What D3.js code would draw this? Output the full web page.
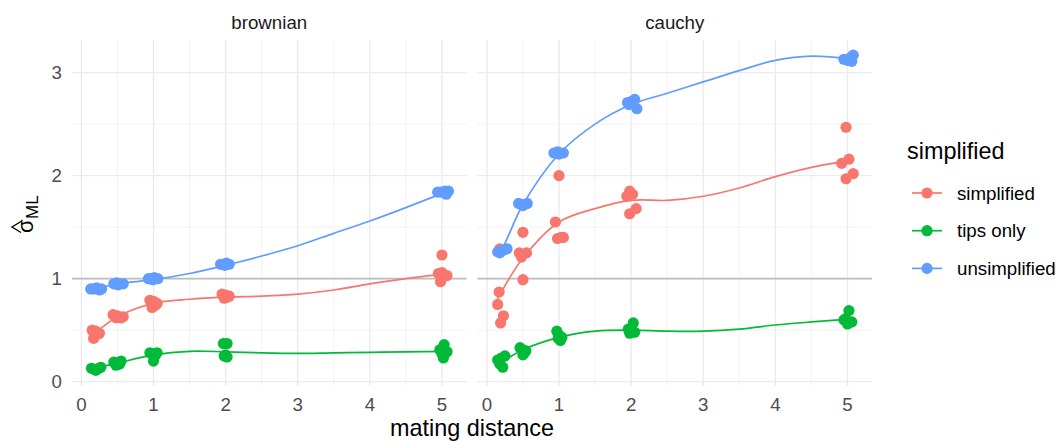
<!DOCTYPE html>
<html>
<head>
<meta charset="utf-8">
<script src="https://cdn.jsdelivr.net/npm/d3@7"></script>
<style>
  body { margin: 0; background: #fff; }
  svg { font-family: "Liberation Sans", Arial, sans-serif; }
</style>
</head>
<body>
<svg id="chart" width="1060" height="441"></svg>
<script>
const facets = ['brownian', 'cauchy']
const groups = ['simplified', 'tips only', 'unsimplified']
const colors = ['#F8766D', '#00BA38', '#619CFF']
const xTicks = [0, 1, 2, 3, 4, 5]
const yTicks = [0, 1, 2, 3]

// jittered points [mating distance, sigma ML]
const brownianSimplified = [
  [0.15, 0.50], [0.20, 0.49], [0.25, 0.47], [0.17, 0.42], [0.22, 0.46],
  [0.44, 0.65], [0.50, 0.64], [0.55, 0.62], [0.48, 0.62], [0.58, 0.63],
  [0.95, 0.79], [1.00, 0.78], [1.05, 0.76], [0.98, 0.72], [1.02, 0.74],
  [1.95, 0.85], [2.00, 0.84], [2.05, 0.83], [1.98, 0.81], [2.02, 0.82],
  [5.00, 1.23], [4.95, 1.05], [5.00, 1.06], [5.07, 1.03], [4.98, 0.97], [5.02, 1.02]
]
const brownianTips = [
  [0.14, 0.13], [0.19, 0.12], [0.24, 0.13], [0.20, 0.11], [0.27, 0.14],
  [0.45, 0.19], [0.50, 0.18], [0.55, 0.20], [0.48, 0.16], [0.53, 0.17],
  [0.95, 0.28], [1.00, 0.27], [1.05, 0.28], [1.00, 0.20], [1.02, 0.25],
  [1.97, 0.37], [2.02, 0.37], [1.98, 0.25], [2.02, 0.24], [2.00, 0.26],
  [5.03, 0.36], [4.97, 0.31], [5.07, 0.29], [5.00, 0.27], [5.02, 0.23]
]
const brownianUnsimplified = [
  [0.13, 0.90], [0.17, 0.90], [0.21, 0.91], [0.25, 0.89], [0.28, 0.90],
  [0.45, 0.95], [0.49, 0.96], [0.53, 0.95], [0.58, 0.95], [0.51, 0.94],
  [0.93, 1.00], [0.97, 1.00], [1.01, 1.01], [1.06, 1.00], [0.99, 0.99],
  [1.93, 1.14], [1.97, 1.14], [2.01, 1.15], [2.05, 1.14], [1.99, 1.13],
  [4.94, 1.84], [4.99, 1.84], [5.04, 1.85], [5.09, 1.85], [5.06, 1.82]
]
const cauchySimplified = [
  [0.18, 1.29], [0.17, 0.87], [0.15, 0.75], [0.23, 0.64], [0.19, 0.57],
  [0.50, 1.45], [0.45, 1.25], [0.55, 1.25], [0.48, 1.21], [0.50, 0.99],
  [1.00, 2.00], [0.95, 1.55], [0.98, 1.39], [1.03, 1.40], [1.06, 1.40],
  [1.94, 1.80], [1.98, 1.85], [2.02, 1.82], [2.07, 1.68], [1.98, 1.63],
  [4.98, 2.47], [5.02, 2.16], [4.92, 2.12], [5.08, 2.02], [4.98, 1.97]
]
const cauchyTips = [
  [0.15, 0.21], [0.20, 0.23], [0.25, 0.25], [0.18, 0.17], [0.22, 0.14],
  [0.46, 0.33], [0.50, 0.31], [0.54, 0.30], [0.50, 0.26], [0.52, 0.28],
  [0.97, 0.49], [1.00, 0.45], [1.04, 0.43], [1.02, 0.40], [0.99, 0.42],
  [2.03, 0.57], [1.96, 0.51], [2.00, 0.50], [2.05, 0.48], [1.98, 0.47],
  [5.02, 0.69], [4.97, 0.61], [5.06, 0.58], [5.00, 0.56], [4.95, 0.60]
]
const cauchyUnsimplified = [
  [0.15, 1.26], [0.20, 1.27], [0.24, 1.28], [0.28, 1.29], [0.18, 1.25],
  [0.44, 1.73], [0.48, 1.72], [0.52, 1.72], [0.56, 1.73], [0.50, 1.71],
  [0.93, 2.22], [0.98, 2.23], [1.02, 2.22], [1.06, 2.22], [1.00, 2.21],
  [1.95, 2.71], [2.00, 2.72], [2.05, 2.74], [2.08, 2.65], [1.97, 2.69],
  [4.95, 3.13], [5.00, 3.12], [5.05, 3.15], [5.08, 3.17], [5.06, 3.11]
]

// smoothed curves, read at these distances
const smoothX = [0.13, 0.2, 0.5, 1, 1.5, 2, 2.5, 3, 3.5, 4, 4.5, 5.08]
const brownianSimplifiedFit = [0.45, 0.48, 0.63, 0.76, 0.80, 0.82, 0.83, 0.85, 0.89, 0.95, 1.00, 1.05]
const brownianTipsFit = [0.11, 0.13, 0.18, 0.26, 0.295, 0.29, 0.28, 0.275, 0.28, 0.285, 0.29, 0.295]
const brownianUnsimplifiedFit = [0.895, 0.90, 0.95, 0.99, 1.05, 1.13, 1.22, 1.32, 1.44, 1.56, 1.69, 1.85]
const cauchySimplifiedFit = [0.78, 0.87, 1.20, 1.55, 1.68, 1.76, 1.76, 1.80, 1.88, 1.99, 2.08, 2.15]
const cauchyTipsFit = [0.17, 0.19, 0.31, 0.43, 0.49, 0.50, 0.49, 0.49, 0.51, 0.55, 0.58, 0.61]
const cauchyUnsimplifiedFit = [1.24, 1.28, 1.72, 2.21, 2.50, 2.69, 2.80, 2.91, 3.02, 3.12, 3.16, 3.13]

const pointSets = [
  [brownianSimplified, brownianTips, brownianUnsimplified],
  [cauchySimplified, cauchyTips, cauchyUnsimplified]
]
const fitSets = [
  [brownianSimplifiedFit, brownianTipsFit, brownianUnsimplifiedFit],
  [cauchySimplifiedFit, cauchyTipsFit, cauchyUnsimplifiedFit]
]

const svg = d3.select('#chart')
const panelLeft = [72, 477.5]
const panelWidth = 394.5
const panelTop = 40
const panelBottom = 386
const bigFont = 23.4
const smallFont = 18.7

const y = d3.scaleLinear().domain([-0.042, 3.317]).range([panelBottom, panelTop])
const color = d3.scaleOrdinal().domain(groups).range(colors)

facets.forEach((facet, fi) => {
  const x = d3.scaleLinear().domain([-0.13, 5.34]).range([panelLeft[fi], panelLeft[fi] + panelWidth])
  const g = svg.append('g')

  // minor grid
  g.selectAll('line.xminor')
    .data(d3.range(0.5, 5.5, 1))
    .enter().append('line')
    .attr('x1', d => x(d)).attr('x2', d => x(d))
    .attr('y1', panelTop).attr('y2', panelBottom)
    .attr('stroke', '#f0f0f0').attr('stroke-width', 0.8)
  g.selectAll('line.yminor')
    .data(d3.range(0.5, 3.5, 1))
    .enter().append('line')
    .attr('y1', d => y(d)).attr('y2', d => y(d))
    .attr('x1', x.range()[0]).attr('x2', x.range()[1])
    .attr('stroke', '#f0f0f0').attr('stroke-width', 0.8)

  // major grid
  g.selectAll('line.xmajor')
    .data(xTicks)
    .enter().append('line')
    .attr('x1', d => x(d)).attr('x2', d => x(d))
    .attr('y1', panelTop).attr('y2', panelBottom)
    .attr('stroke', '#ebebeb').attr('stroke-width', 1.4)
  g.selectAll('line.ymajor')
    .data(yTicks)
    .enter().append('line')
    .attr('y1', d => y(d)).attr('y2', d => y(d))
    .attr('x1', x.range()[0]).attr('x2', x.range()[1])
    .attr('stroke', '#ebebeb').attr('stroke-width', 1.4)

  // reference line at 1
  g.append('line')
    .attr('x1', x.range()[0]).attr('x2', x.range()[1])
    .attr('y1', y(1)).attr('y2', y(1))
    .attr('stroke', '#bdbdbd').attr('stroke-width', 1.8)

  // x tick labels
  g.selectAll('text.xtick')
    .data(xTicks)
    .enter().append('text')
    .attr('x', d => x(d)).attr('y', 411)
    .attr('text-anchor', 'middle')
    .attr('font-size', smallFont).attr('fill', '#4d4d4d')
    .text(d => d)

  // strip label
  g.append('text')
    .attr('x', (x.range()[0] + x.range()[1]) / 2).attr('y', 28.5)
    .attr('text-anchor', 'middle')
    .attr('font-size', smallFont).attr('fill', '#1a1a1a')
    .text(facet)

  groups.forEach((grp, gi) => {
    g.append('g').selectAll('circle')
      .data(pointSets[fi][gi])
      .enter().append('circle')
      .attr('cx', d => x(d[0])).attr('cy', d => y(d[1]))
      .attr('r', 5.6)
      .attr('fill', color(grp))
  })

  groups.forEach((grp, gi) => {
    const line = d3.line()
      .x((d, i) => x(smoothX[i]))
      .y(d => y(d))
      .curve(d3.curveCatmullRom.alpha(0.5))
    g.append('path')
      .datum(fitSets[fi][gi])
      .attr('d', line)
      .attr('fill', 'none')
      .attr('stroke', color(grp))
      .attr('stroke-width', 1.7)
  })
})

// y tick labels
svg.selectAll('text.ytick')
  .data(yTicks)
  .enter().append('text')
  .attr('x', 62).attr('y', d => y(d))
  .attr('dy', '0.36em')
  .attr('text-anchor', 'end')
  .attr('font-size', smallFont).attr('fill', '#4d4d4d')
  .text(d => d)

// axis titles
svg.append('text')
  .attr('x', 472).attr('y', 435.5)
  .attr('text-anchor', 'middle')
  .attr('font-size', bigFont).attr('fill', '#000')
  .text('mating distance')

const ylab = svg.append('g').attr('transform', 'translate(33,233) rotate(-90)')
ylab.append('text')
  .attr('x', 0).attr('y', 0)
  .attr('font-size', 22).attr('fill', '#000')
  .text('σ')
ylab.append('text')
  .attr('x', 14).attr('y', 5)
  .attr('font-size', 17).attr('fill', '#000')
  .text('ML')
ylab.append('path')
  .attr('d', 'M0.5,-12 L6,-21 L11.5,-12')
  .attr('fill', 'none')
  .attr('stroke', '#000')
  .attr('stroke-width', 1.4)

// legend
const legend = svg.append('g')
legend.append('text')
  .attr('x', 907).attr('y', 159)
  .attr('font-size', bigFont).attr('fill', '#000')
  .text('simplified')
const items = legend.selectAll('g.item')
  .data(groups)
  .enter().append('g')
  .attr('transform', (d, i) => `translate(0, ${193 + i * 37.7})`)
items.append('line')
  .attr('x1', 912).attr('x2', 942)
  .attr('stroke', d => color(d)).attr('stroke-width', 1.7)
items.append('circle')
  .attr('cx', 927).attr('r', 5.6)
  .attr('fill', d => color(d))
items.append('text')
  .attr('x', 957).attr('dy', '0.36em')
  .attr('font-size', smallFont).attr('fill', '#000')
  .text(d => d)
</script>
</body>
</html>
